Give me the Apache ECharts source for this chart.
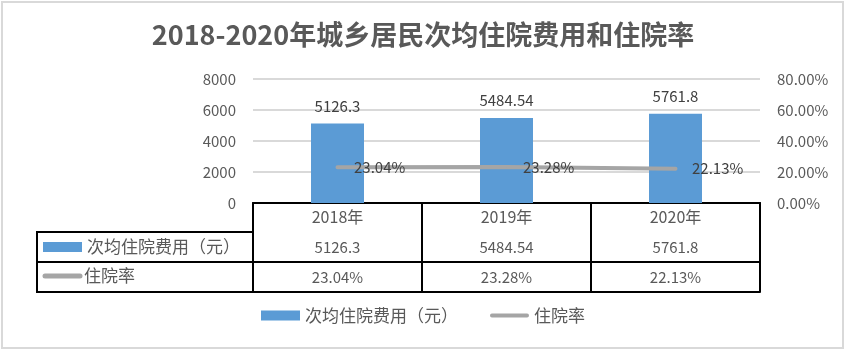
<!DOCTYPE html>
<html>
<head>
<meta charset="utf-8">
<script src="https://cdn.jsdelivr.net/npm/echarts@6/dist/echarts.min.js"></script>
<style>
  html, body { margin: 0; padding: 0; background: #fff; }
  #chart { width: 846px; height: 351px; }
</style>
</head>
<body>
<div id="chart"></div>
<script>
// 数据
const years = ['2018年', '2019年', '2020年']
const costs = [5126.3, 5484.54, 5761.8]
const rates = [0.2304, 0.2328, 0.2213]
const costTicks = [0, 2000, 4000, 6000, 8000]
const rateTicks = [0, 0.2, 0.4, 0.6, 0.8]
const costName = '次均住院费用（元）'
const rateName = '住院率'

const font = "'Noto Sans CJK SC', sans-serif"
const textColor = '#595959'
const pct = v => (v * 100).toFixed(2) + '%'

const chart = echarts.init(document.getElementById('chart'))

// 表格行用额外的x轴来画
const tableAxis = (data, offset, showLabel) => ({
    type: 'category',
    data,
    position: 'bottom',
    offset,
    axisLine: { show: true, lineStyle: { color: '#000', width: 2 } },
    axisTick: { show: false },
    axisLabel: { show: showLabel, margin: 8, fontSize: 15, color: textColor, fontFamily: font },
    splitLine: { show: false }
})

const option = {
    animation: false,
    title: {
        text: '2018-2020年城乡居民次均住院费用和住院率',
        left: 'center',
        top: 16,
        textStyle: { fontSize: 27, fontWeight: 'bold', color: textColor, fontFamily: font }
    },
    legend: {
        bottom: 22,
        left: 'center',
        itemWidth: 39,
        itemHeight: 10,
        itemGap: 32,
        textStyle: { fontSize: 17, color: textColor, fontFamily: font },
        data: [
            { name: costName, icon: 'rect' },
            { name: rateName, icon: 'path://M2,0 L38,0 A2,2 0 0 1 38,4 L2,4 A2,2 0 0 1 2,0 Z' }
        ]
    },
    grid: { left: 253, right: 86, top: 79, bottom: 148 },
    xAxis: [
        {
            type: 'category',
            data: years,
            position: 'bottom',
            axisLine: { lineStyle: { color: '#000', width: 2 } },
            axisTick: { show: true, length: 89, interval: 0, lineStyle: { color: '#000', width: 2 } },
            axisLabel: { margin: 6, fontSize: 16, color: textColor, fontFamily: font }
        },
        tableAxis(costs.map(String), 29, true),
        tableAxis(rates.map(pct), 59, true),
        tableAxis(years, 89, false)
    ],
    yAxis: [
        {
            type: 'value',
            min: costTicks[0],
            max: costTicks[costTicks.length - 1],
            interval: costTicks[1] - costTicks[0],
            axisLine: { show: false },
            axisTick: { show: false },
            axisLabel: { margin: 17, fontSize: 15, color: textColor, fontFamily: font, formatter: v => String(v) },
            splitLine: { lineStyle: { color: '#d9d9d9', width: 2 } }
        },
        {
            type: 'value',
            min: rateTicks[0],
            max: rateTicks[rateTicks.length - 1],
            interval: rateTicks[1] - rateTicks[0],
            axisLine: { show: false },
            axisTick: { show: false },
            axisLabel: { margin: 17, fontSize: 15, color: textColor, fontFamily: font, formatter: pct },
            splitLine: { show: false }
        }
    ],
    series: [
        {
            name: costName,
            type: 'bar',
            data: costs,
            barWidth: 53,
            itemStyle: { color: '#5b9bd5' },
            label: {
                show: true,
                position: 'top',
                distance: 10,
                fontSize: 15,
                color: '#404040',
                fontFamily: font
            }
        },
        {
            name: rateName,
            type: 'line',
            yAxisIndex: 1,
            data: rates,
            symbol: 'circle',
            symbolSize: 1,
            itemStyle: { color: '#a5a5a5' },
            lineStyle: { color: '#a5a5a5', width: 4, cap: 'round' },
            label: {
                show: true,
                position: 'right',
                distance: 16,
                fontSize: 15,
                color: '#404040',
                fontFamily: font,
                formatter: p => pct(p.value)
            },
            z: 5
        }
    ],
    graphic: [
        // 外框
        { type: 'rect', shape: { x: 2, y: 2, width: 841, height: 346 }, style: { fill: 'none', stroke: '#d9d9d9', lineWidth: 2 }, silent: true },
        // 表格左侧部分
        { type: 'line', shape: { x1: 37, y1: 232, x2: 253, y2: 232 }, style: { stroke: '#000', lineWidth: 2 } },
        { type: 'line', shape: { x1: 37, y1: 262, x2: 253, y2: 262 }, style: { stroke: '#000', lineWidth: 2 } },
        { type: 'line', shape: { x1: 37, y1: 292, x2: 253, y2: 292 }, style: { stroke: '#000', lineWidth: 2 } },
        { type: 'line', shape: { x1: 37, y1: 231, x2: 37, y2: 293 }, style: { stroke: '#000', lineWidth: 2 } },
        { type: 'rect', shape: { x: 43, y: 242, width: 39, height: 10 }, style: { fill: '#5b9bd5' } },
        { type: 'line', shape: { x1: 45, y1: 276, x2: 80, y2: 276 }, style: { stroke: '#a5a5a5', lineWidth: 5, lineCap: 'round' } },
        { type: 'text', x: 87, y: 247, style: { text: costName, fontSize: 17, fill: textColor, fontFamily: font, verticalAlign: 'middle' } },
        { type: 'text', x: 84, y: 276, style: { text: rateName, fontSize: 17, fill: textColor, fontFamily: font, verticalAlign: 'middle' } }
    ]
}

chart.setOption(option)
</script>
</body>
</html>
